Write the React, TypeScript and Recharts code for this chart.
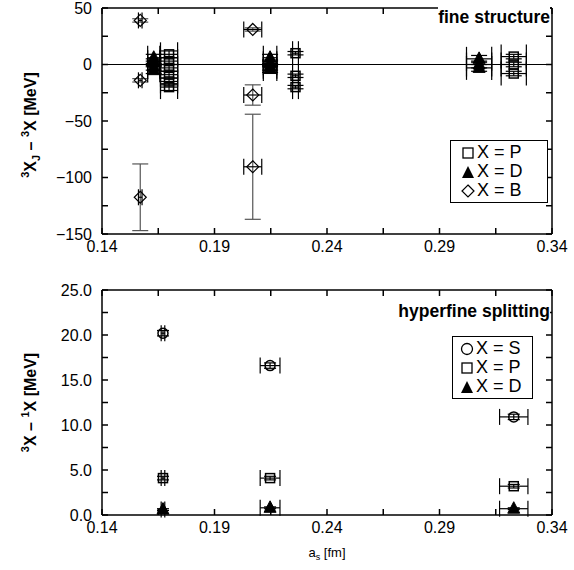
import React from 'react';
import { ScatterChart, Scatter, XAxis, YAxis, ErrorBar, ReferenceLine } from 'recharts';

const FONT = '"Liberation Sans", Arial, Helvetica, sans-serif';

// shared x ticks (lattice spacing a_s in fm), labels only on every other tick
const xTicks = [0.14, 0.165, 0.19, 0.215, 0.24, 0.265, 0.29, 0.315, 0.34];
const fineTicks = [-150, -125, -100, -75, -50, -25, 0, 25, 50];
const hypTicks = [0, 2.5, 5, 7.5, 10, 12.5, 15, 17.5, 20, 22.5, 25];

// fine structure, X = P (open squares)
const fineP_a = [0.1698, 0.1698, 0.1698, 0.1698, 0.1698, 0.1698, 0.226, 0.226, 0.226, 0.323, 0.323, 0.323];
const fineP_y = [9, 3, -3, -9, -15, -20, 10, -10, -20, 7, 0, -8];
const fineP_ex = [0.0038, 0.0038, 0.0038, 0.0038, 0.0038, 0.0038, 0.0013, 0.0013, 0.0013, 0.0056, 0.0056, 0.0056];
const fineP_ey = [3, 3, 3, 3, 3, 3, 1.5, 1.5, 1.5, 2, 2, 2];

// fine structure, X = D (filled triangles)
const fineD_a = [0.163, 0.163, 0.163, 0.163, 0.2147, 0.2147, 0.2147, 0.2147, 0.3076, 0.3076, 0.3076];
const fineD_y = [6, 2, -2, -5, 6, 1, -2, -4, 5, 0, -3];
const fineD_ex = [0.0027, 0.0027, 0.0027, 0.0027, 0.003, 0.003, 0.003, 0.003, 0.0056, 0.0056, 0.0056];
const fineD_ey = [3, 3, 3, 3, 3, 3, 3, 3, 3, 3, 3];

// fine structure, X = B (open diamonds)
const fineB_a = [0.157, 0.157, 0.157, 0.207, 0.207, 0.207];
const fineB_y = [39, -14, -117.5, 31, -27, -90.5];
const fineB_ex = [0.0008, 0.0008, 0.0008, 0.004, 0.004, 0.004];
const fineB_ey = [1.5, 1.5, 29.5, 1.5, 9, 46.5];

// hyperfine splitting
const hyp_a = [0.1671, 0.2147, 0.323];
const hyp_ex = [0.0008, 0.0044, 0.0063];
const hypS_y = [20.2, 16.6, 10.9];
const hypS_ey = [0.3, 0.3, 0.3];
const hypP_y = [4.1, 4.1, 3.2];
const hypP_ey = [0.2, 0.2, 0.2];
const hypD_y = [0.6, 0.8, 0.7];
const hypD_ey = [0.1, 0.1, 0.1];

const rows = (a: number[], y: number[], ex: number[], ey: number[]) =>
  a.map((v, i) => ({ a: v, y: y[i], ex: ex[i], ey: ey[i] }));

const fineP = rows(fineP_a, fineP_y, fineP_ex, fineP_ey);
const fineD = rows(fineD_a, fineD_y, fineD_ex, fineD_ey);
const fineB = rows(fineB_a, fineB_y, fineB_ex, fineB_ey);
const hypS = rows(hyp_a, hypS_y, hyp_ex, hypS_ey);
const hypP = rows(hyp_a, hypP_y, hyp_ex, hypP_ey);
const hypD = rows(hyp_a, hypD_y, hyp_ex, hypD_ey);

const Square = ({ cx, cy }: any) => (
  <rect x={cx - 4.5} y={cy - 4.5} width={9} height={9} fill="none" stroke="#000" strokeWidth={1.5} />
);
const Triangle = ({ cx, cy }: any) => (
  <polygon points={`${cx},${cy - 7} ${cx + 6},${cy + 4.5} ${cx - 6},${cy + 4.5}`} fill="#000" stroke="#000" />
);
const Diamond = ({ cx, cy }: any) => (
  <polygon points={`${cx},${cy - 6} ${cx + 6},${cy} ${cx},${cy + 6} ${cx - 6},${cy}`} fill="none" stroke="#000" strokeWidth={1.2} />
);
const Circle = ({ cx, cy }: any) => (
  <circle cx={cx} cy={cy} r={5} fill="none" stroke="#000" strokeWidth={1.5} />
);

// plot box (chart coordinates)
const W = 574;
const PLOT_L = 102;
const PLOT_R = 552;
const TOP_H = 270;
const TOP_PT = 8;
const TOP_PB = 234;
const BOT_H = 300;
const BOT_PT = 20;
const BOT_PB = 245;
const TICK = 6;

const minus = (v: number) => (v < 0 ? '\u2212' : '') + Math.abs(v).toFixed(0);
const axisLine = { stroke: '#000', strokeWidth: 1.5 };

// ticks point inward, drawn on both sides of the box
const makeXTick = (top: number, bottom: number) => (props: any) => {
  const { x, payload, index } = props;
  return (
    <g>
      <line x1={x} x2={x} y1={bottom} y2={bottom - TICK} stroke="#000" strokeWidth={1.5} />
      <line x1={x} x2={x} y1={top} y2={top + TICK} stroke="#000" strokeWidth={1.5} />
      {index % 2 === 0 && (
        <text x={x} y={bottom + 18} textAnchor="middle" fontFamily={FONT} fontSize={16} fill="#000">
          {payload.value.toFixed(2)}
        </text>
      )}
    </g>
  );
};

const makeYTick = (fmt: (v: number) => string) => (props: any) => {
  const { y, payload, index } = props;
  return (
    <g>
      <line x1={PLOT_L} x2={PLOT_L + TICK} y1={y} y2={y} stroke="#000" strokeWidth={1.5} />
      <line x1={PLOT_R} x2={PLOT_R - TICK} y1={y} y2={y} stroke="#000" strokeWidth={1.5} />
      {index % 2 === 0 && (
        <text x={PLOT_L - 10} y={y + 5.5} textAnchor="end" fontFamily={FONT} fontSize={16} fill="#000">
          {fmt(payload.value)}
        </text>
      )}
    </g>
  );
};

const XLabel = (props: any) => {
  const { x, y, width, height } = props.viewBox;
  return (
    <text x={x + width / 2} y={y + height + 20} textAnchor="middle" fontFamily={FONT} fontSize={13}>
      a<tspan fontSize={9} dy={3}>s</tspan>
      <tspan dy={-3}> [fm]</tspan>
    </text>
  );
};

const FineYLabel = (props: any) => {
  const { y, height } = props.viewBox;
  const cx = 36;
  const cy = y + height / 2 + 4;
  return (
    <text x={cx} y={cy} transform={`rotate(-90, ${cx}, ${cy})`} textAnchor="middle" fontFamily={FONT} fontSize={16} fontWeight="bold">
      <tspan fontSize={11} dy={-7}>3</tspan>
      <tspan dy={7}>X</tspan>
      <tspan fontSize={11} dy={4}>J</tspan>
      <tspan dy={-4}> {'\u2013'} </tspan>
      <tspan fontSize={11} dy={-7}>3</tspan>
      <tspan dy={7}>X [MeV]</tspan>
    </text>
  );
};

const HypYLabel = (props: any) => {
  const { y, height } = props.viewBox;
  const cx = 36;
  const cy = y + height / 2;
  return (
    <text x={cx} y={cy} transform={`rotate(-90, ${cx}, ${cy})`} textAnchor="middle" fontFamily={FONT} fontSize={16} fontWeight="bold">
      <tspan fontSize={11} dy={-7}>3</tspan>
      <tspan dy={7}>X {'\u2013'} </tspan>
      <tspan fontSize={11} dy={-7}>1</tspan>
      <tspan dy={7}>X [MeV]</tspan>
    </text>
  );
};

type Item = { sym: string; label: string };
const LegendBox = ({ left, top, width, padLeft, items }: { left: number; top: number; width: number; padLeft: number; items: Item[] }) => (
  <div
    style={{
      position: 'absolute', left, top, width, boxSizing: 'border-box', border: '1px solid #000', background: '#fff',
      padding: `2px 0 2px ${padLeft}px`, fontFamily: FONT, fontSize: 18, lineHeight: '19px',
    }}
  >
    {items.map((it) => (
      <div key={it.label} style={{ display: 'flex', alignItems: 'center' }}>
        <svg width={14} height={14} style={{ marginRight: 2 }}>
          {it.sym === 'square' && <rect x={2} y={2} width={10} height={10} fill="none" stroke="#000" strokeWidth={1.3} />}
          {it.sym === 'triangle' && <polygon points="7,1 13,13 1,13" fill="#000" />}
          {it.sym === 'diamond' && <polygon points="7,1 13,7 7,13 1,7" fill="none" stroke="#000" strokeWidth={1.2} />}
          {it.sym === 'circle' && <circle cx={7} cy={7} r={5.5} fill="none" stroke="#000" strokeWidth={1.3} />}
        </svg>
        <span>{it.label}</span>
      </div>
    ))}
  </div>
);

const titleStyle: React.CSSProperties = {
  position: 'absolute', right: 24, fontFamily: FONT, fontSize: 17.5, fontWeight: 'bold', background: '#fff', lineHeight: '20px',
};

export default function App() {
  return (
    <div style={{ position: 'relative', width: W, height: 570, background: '#fff' }}>
      <style>{'body{margin:0;background:#fff}'}</style>
      <div style={{ position: 'absolute', left: 0, top: 0 }}>
        <ScatterChart width={W} height={TOP_H} margin={{ top: TOP_PT, right: W - PLOT_R, left: 0, bottom: TOP_H - TOP_PB - 22 }}>
          <XAxis type="number" dataKey="a" domain={[0.14, 0.34]} ticks={xTicks} allowDataOverflow interval={0}
            tick={makeXTick(TOP_PT, TOP_PB)} tickLine={false} tickSize={0} axisLine={axisLine} height={22} />
          <YAxis type="number" dataKey="y" domain={[-150, 50]} ticks={fineTicks} allowDataOverflow interval={0}
            tick={makeYTick(minus)} tickLine={false} tickSize={0} axisLine={axisLine} width={PLOT_L}
            label={FineYLabel} />
          <ReferenceLine y={50} stroke="#000" strokeWidth={1.5} />
          <ReferenceLine x={0.34} stroke="#000" strokeWidth={1.5} />
          <ReferenceLine y={0} stroke="#000" strokeWidth={1} />
          <Scatter data={fineB} shape={Diamond} isAnimationActive={false}>
            <ErrorBar dataKey="ey" direction="y" width={8} stroke="#555" strokeWidth={1.2} />
            <ErrorBar dataKey="ex" direction="x" width={8} stroke="#000" strokeWidth={1.2} />
          </Scatter>
          <Scatter data={fineD} shape={Triangle} isAnimationActive={false}>
            <ErrorBar dataKey="ey" direction="y" width={8} stroke="#000" strokeWidth={1.2} />
            <ErrorBar dataKey="ex" direction="x" width={12} stroke="#000" strokeWidth={1.2} />
          </Scatter>
          <Scatter data={fineP} shape={Square} isAnimationActive={false}>
            <ErrorBar dataKey="ey" direction="y" width={8} stroke="#000" strokeWidth={1.2} />
            <ErrorBar dataKey="ex" direction="x" width={12} stroke="#000" strokeWidth={1.2} />
          </Scatter>
        </ScatterChart>
      </div>
      <div style={{ position: 'absolute', left: 0, top: TOP_H }}>
        <ScatterChart width={W} height={BOT_H} margin={{ top: BOT_PT, right: W - PLOT_R, left: 0, bottom: BOT_H - BOT_PB - 22 }}>
          <XAxis type="number" dataKey="a" domain={[0.14, 0.34]} ticks={xTicks} allowDataOverflow interval={0}
            tick={makeXTick(BOT_PT, BOT_PB)} tickLine={false} tickSize={0} axisLine={axisLine} height={22}
            label={XLabel} />
          <YAxis type="number" dataKey="y" domain={[0, 25]} ticks={hypTicks} allowDataOverflow interval={0}
            tick={makeYTick((v) => v.toFixed(1))} tickLine={false} tickSize={0} axisLine={axisLine} width={PLOT_L}
            label={HypYLabel} />
          <ReferenceLine y={25} stroke="#000" strokeWidth={1.5} />
          <ReferenceLine x={0.34} stroke="#000" strokeWidth={1.5} />
          <Scatter data={hypS} shape={Circle} isAnimationActive={false}>
            <ErrorBar dataKey="ey" direction="y" width={6} stroke="#000" strokeWidth={1.2} />
            <ErrorBar dataKey="ex" direction="x" width={8} stroke="#000" strokeWidth={1.2} />
          </Scatter>
          <Scatter data={hypP} shape={Square} isAnimationActive={false}>
            <ErrorBar dataKey="ey" direction="y" width={6} stroke="#000" strokeWidth={1.2} />
            <ErrorBar dataKey="ex" direction="x" width={8} stroke="#000" strokeWidth={1.2} />
          </Scatter>
          <Scatter data={hypD} shape={Triangle} isAnimationActive={false}>
            <ErrorBar dataKey="ey" direction="y" width={6} stroke="#000" strokeWidth={1.2} />
            <ErrorBar dataKey="ex" direction="x" width={8} stroke="#000" strokeWidth={1.2} />
          </Scatter>
        </ScatterChart>
      </div>
      <div style={{ ...titleStyle, top: 7 }}>fine structure</div>
      <div style={{ ...titleStyle, top: 301 }}>hyperfine splitting</div>
      <LegendBox left={450} top={140} width={98} padLeft={10} items={[
        { sym: 'square', label: 'X = P' },
        { sym: 'triangle', label: 'X = D' },
        { sym: 'diamond', label: 'X = B' },
      ]} />
      <LegendBox left={452} top={336} width={81} padLeft={7} items={[
        { sym: 'circle', label: 'X = S' },
        { sym: 'square', label: 'X = P' },
        { sym: 'triangle', label: 'X = D' },
      ]} />
    </div>
  );
}
